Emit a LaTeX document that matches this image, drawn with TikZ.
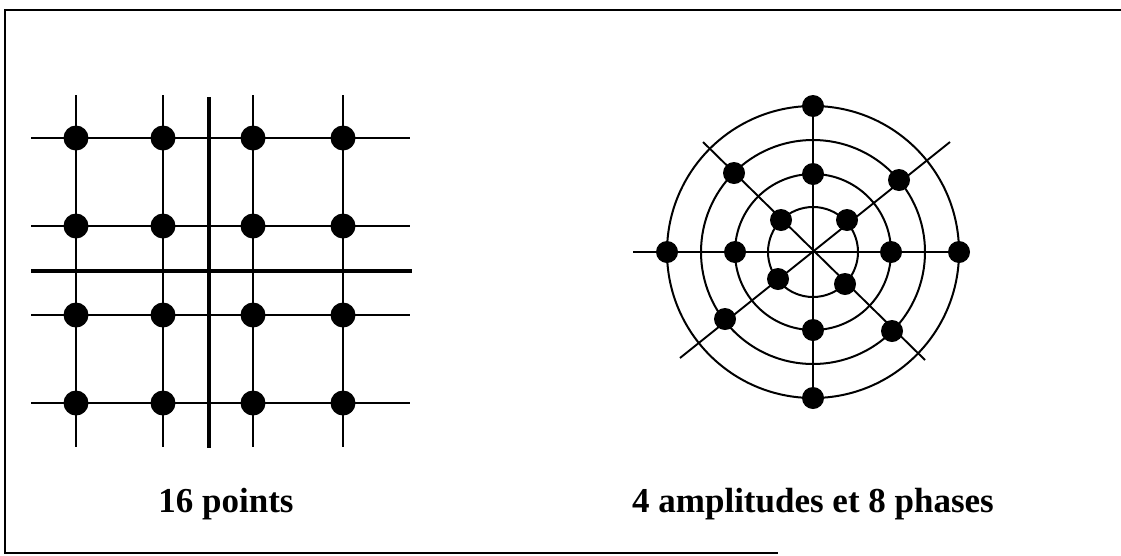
\documentclass[tikz,border=0pt]{standalone}
\usepackage{fontspec}
\setmainfont{Liberation Serif}
\usetikzlibrary{calc}
\begin{document}
\begin{tikzpicture}[x=1pt,y=-1pt,
  thinline/.style={line width=1.9pt,black},
  axisline/.style={line width=3.8pt,black},
  ring/.style={line width=2pt,black},
  gdot/.style={circle,fill=black,inner sep=0pt,minimum size=25pt},
  pdot/.style={circle,fill=black,inner sep=0pt,minimum size=22pt},
  lbl/.style={font=\bfseries\fontsize{35}{40}\selectfont,anchor=base,inner sep=0pt}]
\useasboundingbox (0,0) rectangle (1121,555);
% frame (open on the right)
\draw[line width=2pt] (1121,10) -- (5,10) -- (5,553) -- (778,553);
% ---------- left: 16-point grid ----------
\foreach \x in {76,163,253,343} \draw[thinline] (\x,95) -- (\x,447);
\foreach \y in {138,226,315,403} \draw[thinline] (31,\y) -- (410,\y);
\draw[axisline] (31,271) -- (412,271);
\draw[axisline] (209,97) -- (209,448);
\foreach \x [count=\i] in {76,163,253,343}
  \foreach \y [count=\j] in {138,226,315,403}
    \node[gdot] (g\i\j) at (\x,\y) {};
% ---------- right: 4 amplitudes and 8 phases ----------
\coordinate (c) at (813,252);
\foreach \r in {45,78,112,146} \draw[ring] (c) circle[radius=\r];
\node[pdot] (pN4) at ($(c)+(0,-146)$) {};
\node[pdot] (pS4) at ($(c)+(0,146)$) {};
\node[pdot] (pW4) at ($(c)+(-146,0)$) {};
\node[pdot] (pE4) at ($(c)+(146,0)$) {};
\node[pdot] (pN2) at ($(c)+(0,-78)$) {};
\node[pdot] (pS2) at ($(c)+(0,78)$) {};
\node[pdot] (pW2) at ($(c)+(-78,0)$) {};
\node[pdot] (pE2) at ($(c)+(78,0)$) {};
\node[pdot] (pNE1) at ($(c)+(34,-32)$) {};
\node[pdot] (pNW1) at ($(c)+(-32,-32)$) {};
\node[pdot] (pSW1) at ($(c)+(-35,27)$) {};
\node[pdot] (pSE1) at ($(c)+(32,32)$) {};
\node[pdot] (pNE3) at ($(c)+(86,-72)$) {};
\node[pdot] (pNW3) at ($(c)+(-79,-79)$) {};
\node[pdot] (pSW3) at ($(c)+(-88,67)$) {};
\node[pdot] (pSE3) at ($(c)+(79,79)$) {};
\coordinate (hL) at (633,252);
\coordinate (dNE) at (950,142);
\coordinate (dSW) at (680,358);
\coordinate (dNW) at (703,142);
\coordinate (dSE) at (925,360);
\draw[thinline] (hL) -- (pE4.center);
\draw[thinline] (pN4.center) -- (pS4.center);
\draw[thinline] (dNW) -- (dSE);
\draw[thinline] (dSW) -- (dNE);
% ---------- labels ----------
\node[lbl] (t1) at (226,512) {16 points};
\node[lbl] (t2) at (813,512) {4 amplitudes et 8 phases};
\end{tikzpicture}
\end{document}
